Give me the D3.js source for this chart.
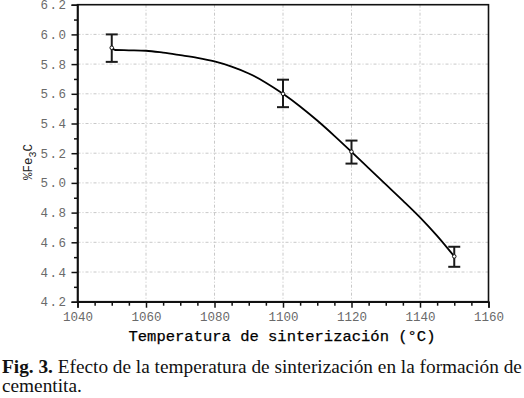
<!DOCTYPE html>
<html>
<head>
<meta charset="utf-8">
<script src="https://cdn.jsdelivr.net/npm/d3@7"></script>
<style>
  body { margin: 0; background: #fff; }
  svg { display: block; }
</style>
</head>
<body>
<div id="chart"></div>
<script>
// Measured points with error bars
var tempPoints = [1050, 1100, 1120, 1150];
var fePoints = [5.91, 5.60, 5.21, 4.505];
var feErrLow = [5.815, 5.51, 5.13, 4.435];
var feErrHigh = [6.00, 5.695, 5.285, 4.57];

// Fitted curve
var curveTemp = [1050, 1051, 1055, 1060, 1065, 1070, 1075, 1080, 1085, 1090, 1095, 1100,
                 1105, 1110, 1115, 1120, 1125, 1130, 1135, 1140, 1145, 1150];
var curveFe = [5.91, 5.895, 5.893, 5.89, 5.877, 5.86, 5.842, 5.818, 5.783, 5.737, 5.675, 5.60,
               5.515, 5.42, 5.317, 5.209, 5.099, 4.99, 4.881, 4.768, 4.643, 4.505];

var xTicks = [1040, 1060, 1080, 1100, 1120, 1140, 1160];
var yTicks = [4.2, 4.4, 4.6, 4.8, 5.0, 5.2, 5.4, 5.6, 5.8, 6.0, 6.2];

function init() {
    var w = 524, h = 398;
    var left = 77.5, right = 488.5, top = 4.7, bottom = 301.7;

    var svg = d3.select("#chart").append("svg")
        .attr("width", w)
        .attr("height", h);

    var x = d3.scaleLinear().domain([1040, 1160]).range([left, right]);
    var y = d3.scaleLinear().domain([4.2, 6.2]).range([bottom, top]);

    // grid lines (dash-dot, light gray)
    var grid = svg.append("g").attr("stroke", "#c8c8c8").attr("stroke-width", 1)
        .attr("stroke-dasharray", "3,2,1,2");
    grid.selectAll("line.gx")
        .data(xTicks.slice(1, -1))
        .enter().append("line")
        .attr("x1", function(d) { return x(d); })
        .attr("x2", function(d) { return x(d); })
        .attr("y1", top).attr("y2", bottom);
    grid.selectAll("line.gy")
        .data(yTicks.slice(1, -1))
        .enter().append("line")
        .attr("y1", function(d) { return y(d); })
        .attr("y2", function(d) { return y(d); })
        .attr("x1", left).attr("x2", right);

    // frame
    svg.append("rect")
        .attr("x", left).attr("y", top)
        .attr("width", right - left).attr("height", bottom - top)
        .attr("fill", "none").attr("stroke", "#111").attr("stroke-width", 1.6);

    var tickFont = "'Liberation Mono', 'DejaVu Sans Mono', monospace";

    // x axis (major + minor ticks)
    svg.append("g")
        .attr("transform", "translate(0," + bottom + ")")
        .call(d3.axisBottom(x).tickValues(xTicks).tickSize(6).tickPadding(4)
            .tickFormat(d3.format("d")));
    svg.append("g")
        .attr("transform", "translate(0," + bottom + ")")
        .call(d3.axisBottom(x).tickValues(d3.range(1045, 1160, 5).filter(function(d) { return d % 20 !== 0; }))
            .tickSize(4).tickFormat(""))
        .call(function(g) { g.select(".domain").remove(); });

    // y axis (major + minor ticks)
    var yAxis = svg.append("g")
        .attr("transform", "translate(" + left + ",0)")
        .call(d3.axisLeft(y).tickValues(yTicks).tickSize(6).tickPadding(4)
            .tickFormat(d3.format(".1f")));
    svg.append("g")
        .attr("transform", "translate(" + left + ",0)")
        .call(d3.axisLeft(y).tickValues(d3.range(4.3, 6.2, 0.2))
            .tickSize(3.5).tickFormat(""))
        .call(function(g) { g.select(".domain").remove(); });

    svg.selectAll(".tick line").attr("stroke", "#111").attr("stroke-width", 1.5);
    svg.selectAll(".domain").attr("stroke", "#111").attr("stroke-width", 1.6);
    svg.selectAll(".tick text")
        .attr("fill", "#6a6a6a")
        .style("font-family", tickFont)
        .style("font-size", "12.5px");
    yAxis.selectAll(".tick text").style("letter-spacing", "1.5px");

    // axis titles
    svg.append("text")
        .attr("x", (left + right) / 2 - 1)
        .attr("y", 341)
        .attr("text-anchor", "middle")
        .style("font-family", tickFont)
        .style("font-size", "15.5px")
        .attr("fill", "#000")
        .attr("stroke", "#000")
        .attr("stroke-width", 0.25)
        .text("Temperatura de sinterización (°C)");

    var yTitle = svg.append("text")
        .attr("transform", "translate(32,162) rotate(-90)")
        .attr("text-anchor", "middle")
        .style("font-family", tickFont)
        .style("font-size", "12.5px")
        .attr("fill", "#222");
    yTitle.append("tspan").text("%Fe");
    yTitle.append("tspan").attr("dy", 4).style("font-size", "10px").text("3");
    yTitle.append("tspan").attr("dy", -4).text("C");

    // fitted curve
    var line = d3.line()
        .x(function(d, i) { return x(curveTemp[i]); })
        .y(function(d) { return y(d); })
        .curve(d3.curveMonotoneX);
    svg.append("path")
        .datum(curveFe)
        .attr("d", line)
        .attr("fill", "none")
        .attr("stroke", "#000")
        .attr("stroke-width", 1.8);

    // error bars
    var bars = svg.append("g").attr("stroke", "#1a1a1a").attr("stroke-width", 2);
    tempPoints.forEach(function(t, i) {
        var cx = x(t);
        bars.append("line").attr("x1", cx).attr("x2", cx)
            .attr("y1", y(feErrLow[i])).attr("y2", y(feErrHigh[i]));
        bars.append("line").attr("x1", cx - 6).attr("x2", cx + 6)
            .attr("y1", y(feErrLow[i])).attr("y2", y(feErrLow[i]));
        bars.append("line").attr("x1", cx - 6).attr("x2", cx + 6)
            .attr("y1", y(feErrHigh[i])).attr("y2", y(feErrHigh[i]));
    });

    // data point markers
    svg.selectAll("circle.pt")
        .data(fePoints)
        .enter().append("circle")
        .attr("cx", function(d, i) { return x(tempPoints[i]); })
        .attr("cy", function(d) { return y(d); })
        .attr("r", 1.8)
        .attr("fill", "#fff")
        .attr("stroke", "#111")
        .attr("stroke-width", 1);

    // caption
    var capFont = "'Liberation Serif', 'Times New Roman', serif";
    var cap1 = svg.append("text")
        .attr("x", 2).attr("y", 373)
        .style("font-family", capFont)
        .style("font-size", "19.3px")
        .attr("fill", "#111");
    cap1.append("tspan").style("font-weight", "bold").text("Fig. 3.");
    cap1.append("tspan").text(" Efecto de la temperatura de sinterización en la formación de");
    svg.append("text")
        .attr("x", 2).attr("y", 392)
        .style("font-family", capFont)
        .style("font-size", "19.3px")
        .attr("fill", "#111")
        .text("cementita.");
}

window.onload = init;
</script>
</body>
</html>
